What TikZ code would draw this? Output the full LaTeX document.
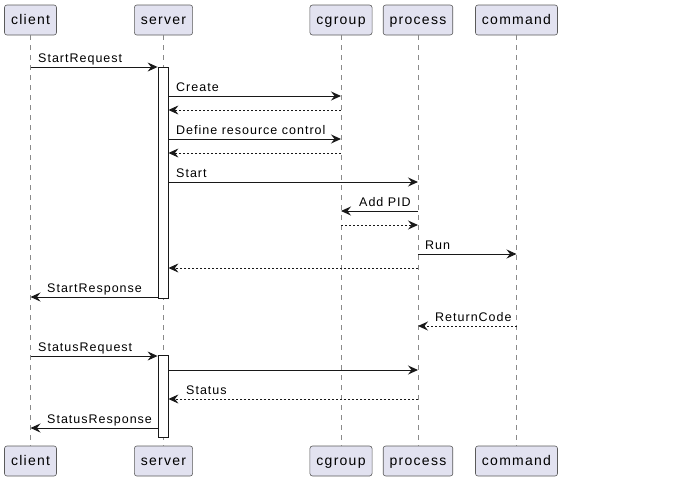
\documentclass[tikz,border=0pt]{standalone}
\usepackage{fontspec}
\setmainfont{Liberation Sans}
\newfontfamily\msgfont[LetterSpace=8]{Liberation Sans}
\newfontfamily\partfont[LetterSpace=9]{Liberation Sans}
\usetikzlibrary{arrows.meta}
\definecolor{partfill}{HTML}{E2E2F0}
\definecolor{partdraw}{HTML}{5A5A5A}
\definecolor{lifecol}{HTML}{8A8A8A}
\definecolor{linecol}{HTML}{181818}
\tikzset{
  part/.style={draw=partdraw, fill=partfill, line width=0.6pt, rounded corners=2.5pt,
    minimum height=30pt, inner xsep=6.5pt, inner ysep=0pt, text height=12.5pt, text depth=3pt,
    font=\partfont\fontsize{14}{16}\selectfont, text=black},
  life/.style={draw=lifecol, line width=0.6pt, dash pattern=on 5pt off 5pt},
  actbox/.style={draw=linecol, fill=white, line width=0.8pt, minimum width=10pt, inner sep=0pt},
  msg/.style={draw=linecol, line width=1pt, -{Stealth[length=10pt,width=9pt,inset=3.5pt]}},
  ret/.style={msg, dash pattern=on 2pt off 2pt},
  lbl/.style={anchor=base west, inner sep=0pt, font=\msgfont\fontsize{12.5}{14}\selectfont, text=black}
}
\begin{document}
\begin{tikzpicture}[x=1pt,y=-1pt]
\useasboundingbox (0,0) rectangle (683,482);
% participants top
\node[part] (clientT) at (30.5,20) {client};
\node[part] (serverT) at (163.5,20) {server};
\node[part] (cgroupT) at (341,20) {cgroup};
\node[part] (processT) at (418,20) {process};
\node[part] (commandT) at (516.5,20) {command};
% participants bottom
\node[part] (clientB) at (30.5,461) {client};
\node[part] (serverB) at (163.5,461) {server};
\node[part] (cgroupB) at (341,461) {cgroup};
\node[part] (processB) at (418,461) {process};
\node[part] (commandB) at (516.5,461) {command};
% lifelines
\draw[life] (clientT.south) -- (clientB.north);
\draw[life] (serverT.south) -- (serverB.north);
\draw[life] (cgroupT.south) -- (cgroupB.north);
\draw[life] (processT.south) -- (processB.north);
\draw[life] (commandT.south) -- (commandB.north);
% activations
\node[actbox, minimum height=231pt] (act1) at (163,182.5) {};
\node[actbox, minimum height=82pt] (act2) at (163,396) {};
% messages
\draw[msg] (clientT |- 0,67) -- (act1.west |- 0,67);
\node[lbl] (l1) at (38,62) {StartRequest};
\draw[msg] (act1.east |- 0,96) -- (cgroupT |- 0,96);
\node[lbl] (l2) at (176,91) {Create};
\draw[ret] (cgroupT |- 0,110) -- (act1.east |- 0,110);
\draw[msg] (act1.east |- 0,139) -- (cgroupT |- 0,139);
\node[lbl] (l3) at (176,134) {Define resource control};
\draw[ret] (cgroupT |- 0,153) -- (act1.east |- 0,153);
\draw[msg] (act1.east |- 0,182) -- (processT |- 0,182);
\node[lbl] (l4) at (176,177) {Start};
\draw[msg] (processT |- 0,211) -- (cgroupT |- 0,211);
\node[lbl] (l5) at (359,206) {Add PID};
\draw[ret] (cgroupT |- 0,225) -- (processT |- 0,225);
\draw[msg] (processT |- 0,254) -- (commandT |- 0,254);
\node[lbl] (l6) at (425,249) {Run};
\draw[ret] (processT |- 0,268) -- (act1.east |- 0,268);
\draw[msg] (act1.west |- 0,297) -- (clientT |- 0,297);
\node[lbl] (l7) at (47,292) {StartResponse};
\draw[ret] (commandT |- 0,326) -- (processT |- 0,326);
\node[lbl] (l8) at (435,321) {ReturnCode};
\draw[msg] (clientT |- 0,356) -- (act2.west |- 0,356);
\node[lbl] (l9) at (38,351) {StatusRequest};
\draw[msg] (act2.east |- 0,370) -- (processT |- 0,370);
\draw[ret] (processT |- 0,399) -- (act2.east |- 0,399);
\node[lbl] (l10) at (186,394) {Status};
\draw[msg] (act2.west |- 0,428) -- (clientT |- 0,428);
\node[lbl] (l11) at (47,423) {StatusResponse};
\end{tikzpicture}
\end{document}
